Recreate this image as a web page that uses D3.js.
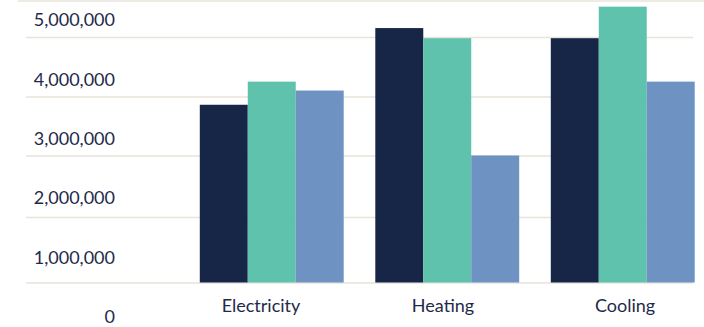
<!DOCTYPE html>
<html>
<head>
<meta charset="utf-8">
<script src="https://cdn.jsdelivr.net/npm/d3@7"></script>
<style>
  html, body { margin: 0; padding: 0; background: #fff; }
  svg text { font-family: Lato, "Open Sans", sans-serif; fill: #1e2a4a; }
</style>
</head>
<body>
<div id="chart"></div>
<script>
// data
const categories = ["Electricity", "Heating", "Cooling"];
const seriesNames = ["s1", "s2", "s3"];
const series1 = [2860000, 4150000, 3980000];
const series2 = [3250000, 3980000, 4510000];
const series3 = [3100000, 2000000, 3250000];
const gridValues = [0, 1000000, 2000000, 3000000, 4000000];
const tickLabels = [0, 1000000, 2000000, 3000000, 4000000, 5000000];
const colors = ["#172546", "#5ec2ad", "#6e92c2"];

const width = 704, height = 327;

let svg = d3.select("#chart").append("svg")
  .attr("width", width)
  .attr("height", height);

// the bars follow the gridlines, which are not quite evenly spaced in the picture
let yScale = d3.scaleLinear()
  .domain([0, 1000000, 2000000, 3000000, 4000000])
  .range([282.5, 217, 155.5, 96.5, 37]);

// tick labels sit on their own, evenly spaced
let yLabel = d3.scaleLinear()
  .domain([0, 5000000])
  .range([317, 20]);

let x0 = d3.scaleBand()
  .domain(categories)
  .range([184, 710.5])
  .paddingInner(0.18)
  .paddingOuter(0.09);

let x1 = d3.scaleBand()
  .domain(seriesNames)
  .range([0, x0.bandwidth()]);

let xLabel = d3.scalePoint()
  .domain(categories)
  .range([260.5, 624.5]);

// top band
svg.append("rect")
  .attr("x", 18).attr("y", 0)
  .attr("width", width - 18).attr("height", 2)
  .style("fill", "#eeebe4");

// gridlines
let grid = d3.axisLeft(yScale)
  .tickValues(gridValues)
  .tickFormat("")
  .tickSize(-(693 - 26));

svg.append("g")
  .attr("class", "grid")
  .attr("transform", "translate(26,0)")
  .call(grid)
  .call(g => g.select(".domain").remove())
  .call(g => g.selectAll("line").attr("stroke", "#e9e3d8").attr("stroke-width", 1.5));

// y labels
let yAxis = d3.axisLeft(yLabel)
  .tickValues(tickLabels)
  .tickFormat(d3.format(","))
  .tickSize(0)
  .tickPadding(0);

svg.append("g")
  .attr("class", "axis axis--y")
  .attr("transform", "translate(115,0)")
  .call(yAxis)
  .call(g => g.select(".domain").remove())
  .call(g => g.selectAll("text")
    .style("font-size", "18px")
    .attr("fill", "#1e2a4a"));

// bars
let rows = categories.map((c, i) => ({
  cat: c,
  values: [series1[i], series2[i], series3[i]]
}));

let groups = svg.selectAll(".group")
  .data(rows)
  .enter().append("g")
  .attr("class", "group")
  .attr("transform", d => "translate(" + x0(d.cat) + ",0)");

groups.selectAll("rect")
  .data(d => d.values.map((v, j) => ({ key: seriesNames[j], value: v, j: j })))
  .enter().append("rect")
  .attr("x", d => x1(d.key))
  .attr("width", x1.bandwidth())
  .attr("y", d => yScale(d.value))
  .attr("height", d => yScale(0) - yScale(d.value))
  .style("fill", d => colors[d.j]);

// x labels
let xAxis = d3.axisBottom(xLabel)
  .tickSize(0)
  .tickPadding(0);

svg.append("g")
  .attr("class", "axis axis--x")
  .attr("transform", "translate(0,312)")
  .call(xAxis)
  .call(g => g.select(".domain").remove())
  .call(g => g.selectAll("text")
    .attr("dy", "0")
    .style("font-size", "18px")
    .attr("fill", "#1e2a4a"));
</script>
</body>
</html>
